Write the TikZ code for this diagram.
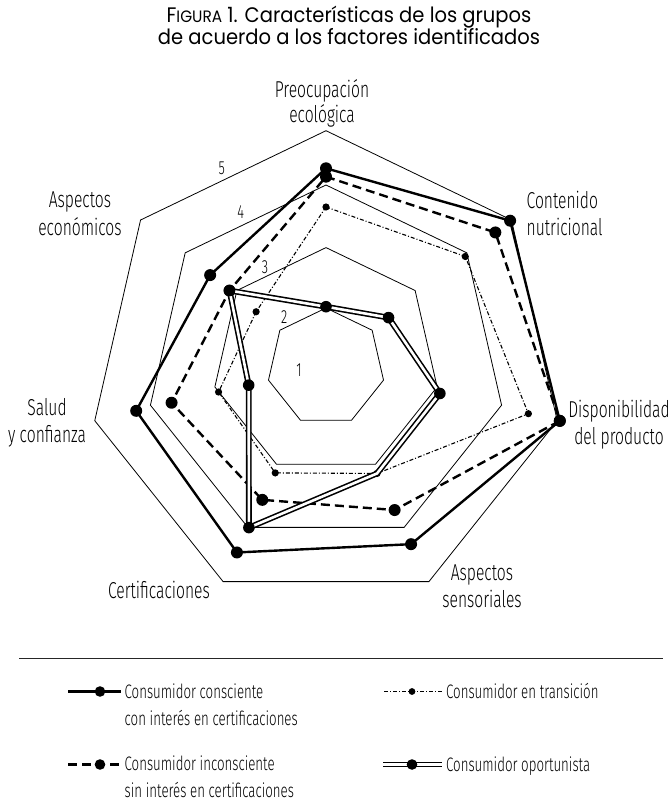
\documentclass[tikz,border=0pt]{standalone}
\usepackage{fontspec}
\setmainfont{Fira Sans}
\newfontfamily\titlefont[FakeStretch=0.93]{Poppins}
\newfontfamily\condfont[FakeStretch=0.68]{Fira Sans Light}
\usetikzlibrary{calc}

\begin{document}
\begin{tikzpicture}[x=1pt,y=-1pt,
  grid/.style={line width=0.8pt, line join=miter},
  sone/.style={line width=2.4pt, line join=round},
  stwo/.style={line width=2.4pt, dash pattern=on 9pt off 5pt, line join=round},
  sthree/.style={line width=1.1pt, dash pattern=on 4pt off 2pt on 1pt off 2pt},
  sfour/.style={double=white, double distance=2.6pt, line width=1.6pt},
  axislabel/.style={font=\condfont\fontsize{23}{27}\selectfont, inner sep=0pt},
  ringlabel/.style={font=\condfont\fontsize{19}{19}\selectfont, inner sep=0pt},
  legtext/.style={font=\condfont\fontsize{19.5}{27}\selectfont, inner sep=0pt, anchor=base west, align=left},
  rule/.style={line width=1.3pt, black!85}]

\useasboundingbox (0,0) rectangle (669,802);

% title (a multi-line node's base is its last line)
\node[font=\titlefont\fontsize{21}{21}\selectfont, anchor=base, align=center, inner sep=0pt] (title) at (349,45)
  {F{\fontsize{16.5}{21}\selectfont IGURA} 1. Características de los grupos\\de acuerdo a los factores identificados};

% radar centre
\coordinate (ctr) at (326,367.5);

% rings for the levels 2 to 5
\foreach \cy/\R in {367/59, 361.6/114, 365.1/180.1, 367.9/237.2}
  \draw[grid] ([shift={(326,\cy)}]-90:\R)
    \foreach \k in {1,...,6}{ -- ([shift={(326,\cy)}]{-90+\k*360/7}:\R) } -- cycle;

% ring values
\node[ringlabel] (v1) at (299,370) {1};
\node[ringlabel] (v2) at (284.3,316.7) {2};
\node[ringlabel] (v3) at (265,266.7) {3};
\node[ringlabel] (v4) at (240.7,211.7) {4};
\node[ringlabel] (v5) at (221.7,168.3) {5};

% factor labels
\node[axislabel, anchor=base, align=center, font=\condfont\fontsize{23}{25}\selectfont] (f0) at (322,123) {Preocupación\\ecológica};
\node[axislabel, anchor=base west, align=left, font=\condfont\fontsize{23}{28}\selectfont] (f1) at (526.5,236) {Contenido\\nutricional};
\node[axislabel, anchor=base, align=center] (f2) at (619,444) {Disponibilidad\\del producto};
\node[axislabel, anchor=base, align=center] (f3) at (482,607.7) {Aspectos\\sensoriales};
\node[axislabel, anchor=base east] (f4) at (210,598) {Certificaciones};
\node[axislabel, anchor=base, align=center] (f5) at (47,442) {Salud\\y confianza};
\node[axislabel, anchor=base, align=center, font=\condfont\fontsize{23}{28}\selectfont] (f6) at (80,235) {Aspectos\\económicos};

% group profiles: distance from the centre along each factor axis
\foreach \r [count=\k from 0] in {199.2,235.5,239.8,196.1,205.3,194.7,148.2}
  {\pgfmathsetmacro\a{-90+\k*360/7}\coordinate (sone-\k) at ([shift={(ctr)}]\a:\r);}
\foreach \r [count=\k from 0] in {190.8,216.6,239.8,158.2,146.9,158.4,123.4}
  {\pgfmathsetmacro\a{-90+\k*360/7}\coordinate (stwo-\k) at ([shift={(ctr)}]\a:\r);}
\foreach \r [count=\k from 0] in {160.5,178.1,207.6,117.6,117.0,110.2,89.4}
  {\pgfmathsetmacro\a{-90+\k*360/7}\coordinate (sthree-\k) at ([shift={(ctr)}]\a:\r);}
\foreach \r [count=\k from 0] in {60.8,80,116.8,117.6,177.7,79.3,123.4}
  {\pgfmathsetmacro\a{-90+\k*360/7}\coordinate (sfour-\k) at ([shift={(ctr)}]\a:\r);}

% en transición
\draw[sthree] (sthree-0) -- (sthree-1) -- (sthree-2) -- (sthree-3) -- (sthree-4) -- (sthree-5) -- (sthree-6) -- cycle;
\foreach \k in {0,...,6} \fill (sthree-\k) circle (3.6pt);

% inconsciente sin interés en certificaciones
\draw[stwo] (stwo-0) -- (stwo-1) -- (stwo-2) -- (stwo-3) -- (stwo-4) -- (stwo-5) -- (stwo-6) -- cycle;
\foreach \k in {0,...,6} \fill (stwo-\k) circle (6pt);

% oportunista
\draw[sfour] (sfour-0) -- (sfour-1) -- (sfour-2) -- (sfour-3) -- (sfour-4) -- (sfour-5) -- (sfour-6) -- cycle;
\foreach \k in {0,1,2,4,5,6} \fill (sfour-\k) circle (5.8pt);

% consciente con interés en certificaciones
\draw[sone] (sone-0) -- (sone-1) -- (sone-2) -- (sone-3) -- (sone-4) -- (sone-5) -- (sone-6) -- cycle;
\foreach \k in {0,...,6} \fill (sone-\k) circle (6pt);

% legend
\coordinate (rl) at (19,658.3);
\coordinate (rr) at (663,658.3);
\draw[rule] (rl) -- (rr);

\coordinate (la1) at (68,691.5);  \coordinate (lb1) at (121,691.5); \coordinate (ld1) at (100,691.5);
\draw[sone] (la1) -- (lb1); \fill (ld1) circle (5.3pt);
\node[legtext] (lt1) at (124.5,725) {Consumidor consciente\\con interés en certificaciones};

\coordinate (la2) at (384,691.5); \coordinate (lb2) at (442,691.5); \coordinate (ld2) at (412,691.5);
\draw[sthree] (la2) -- (lb2); \fill (ld2) circle (3.4pt);
\node[legtext] (lt2) at (446,698) {Consumidor en transición};

\coordinate (la3) at (68,764.5);  \coordinate (lb3) at (121,764.5); \coordinate (ld3) at (100,764.5);
\draw[stwo] (la3) -- (lb3); \fill (ld3) circle (5.3pt);
\node[legtext] (lt3) at (124.5,797) {Consumidor inconsciente\\sin interés en certificaciones};

\coordinate (la4) at (383,764.5); \coordinate (lb4) at (442,764.5); \coordinate (ld4) at (412,764.5);
\draw[sfour] (la4) -- (lb4); \fill (ld4) circle (5.3pt);
\node[legtext] (lt4) at (446,771) {Consumidor oportunista};

\end{tikzpicture}
\end{document}
